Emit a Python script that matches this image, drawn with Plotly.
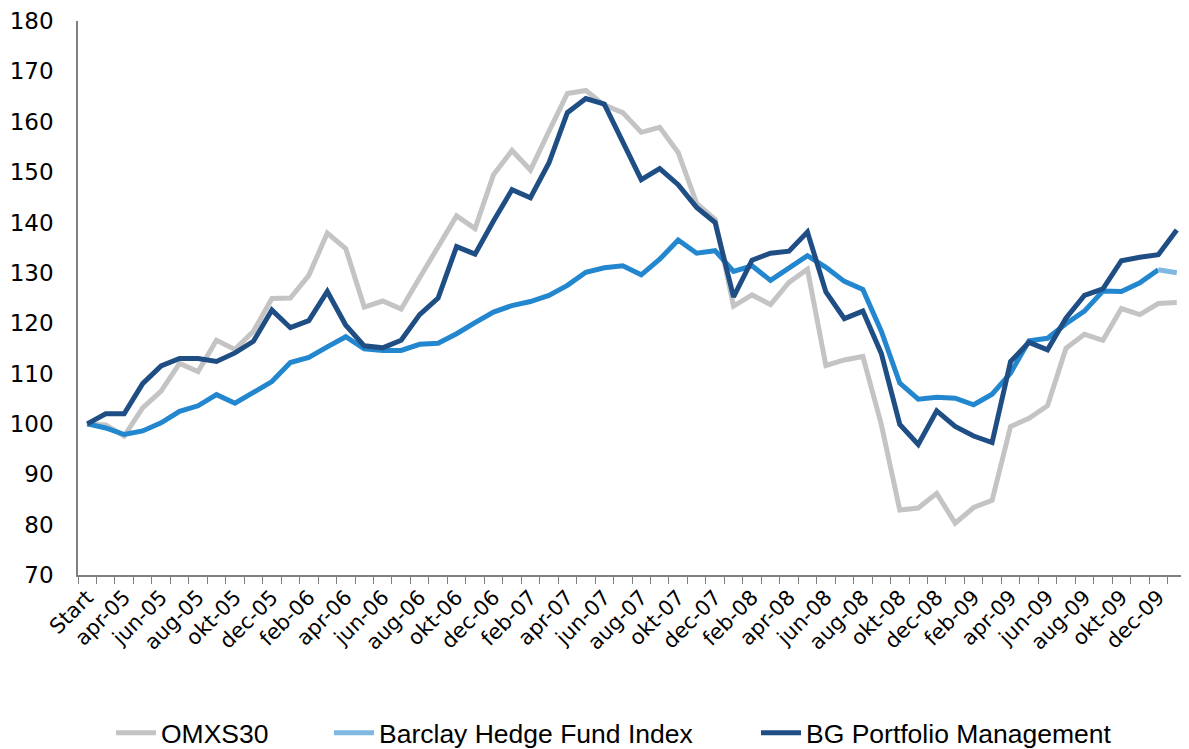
import plotly.graph_objects as go

categories = ["Start", "mar-05", "apr-05", "maj-05", "jun-05", "jul-05", "aug-05", "sep-05", "okt-05", "nov-05", "dec-05",
              "jan-06", "feb-06", "mar-06", "apr-06", "maj-06", "jun-06", "jul-06", "aug-06", "sep-06", "okt-06", "nov-06", "dec-06",
              "jan-07", "feb-07", "mar-07", "apr-07", "maj-07", "jun-07", "jul-07", "aug-07", "sep-07", "okt-07", "nov-07", "dec-07",
              "jan-08", "feb-08", "mar-08", "apr-08", "maj-08", "jun-08", "jul-08", "aug-08", "sep-08", "okt-08", "nov-08", "dec-08",
              "jan-09", "feb-09", "mar-09", "apr-09", "maj-09", "jun-09", "jul-09", "aug-09", "sep-09", "okt-09", "nov-09", "dec-09",
              "jan-10"]

omxs30 = [100.0, 99.8, 97.6, 103.2, 106.5, 112.0, 110.4, 116.6, 114.8, 118.4, 124.9,
          125.0, 129.5, 137.9, 134.8, 123.2, 124.4, 122.8, 129.0, 135.1, 141.3, 138.8, 149.5,
          154.3, 150.4, 158.1, 165.6, 166.2, 163.3, 161.8, 157.9, 158.9, 153.9, 143.8, 140.6,
          123.4, 125.6, 123.7, 128.1, 130.7, 111.6, 112.7, 113.4, 99.9, 82.9, 83.3, 86.2,
          80.3, 83.4, 84.8, 99.5, 101.1, 103.6, 115.0, 117.8, 116.6, 122.9, 121.7, 123.9,
          124.1]

barclay = [100.0, 99.2, 97.9, 98.6, 100.2, 102.5, 103.6, 105.8, 104.1, 106.3, 108.4,
           112.2, 113.2, 115.3, 117.3, 114.9, 114.6, 114.6, 115.8, 116.0, 117.9, 120.1, 122.2,
           123.5, 124.3, 125.5, 127.5, 130.1, 131.0, 131.4, 129.6, 132.7, 136.5, 133.9, 134.4,
           130.3, 131.4, 128.5, 130.9, 133.4, 131.1, 128.3, 126.7, 118.4, 108.1, 104.9, 105.3,
           105.1, 103.8, 105.9, 110.1, 116.5, 117.0, 119.9, 122.4, 126.4, 126.3, 128.0, 130.6,
           130.0]

bg_portfolio = [100.0, 102.0, 102.0, 108.0, 111.5, 113.0, 113.0, 112.4, 114.1, 116.4, 122.6,
                119.1, 120.5, 126.3, 119.6, 115.5, 115.1, 116.6, 121.7, 125.0, 135.2, 133.7, 140.3,
                146.5, 144.9, 151.8, 161.8, 164.6, 163.5, 156.1, 148.5, 150.7, 147.5, 143.0, 140.0,
                125.2, 132.5, 133.9, 134.3, 138.1, 126.2, 120.9, 122.4, 114.0, 99.9, 95.9, 102.6,
                99.5, 97.6, 96.3, 112.4, 116.2, 114.7, 121.0, 125.5, 126.8, 132.4, 133.1, 133.6,
                138.5]

series_names = ["OMXS30", "Barclay Hedge Fund Index", "BG Portfolio Management"]
y_ticks = [70, 80, 90, 100, 110, 120, 130, 140, 150, 160, 170, 180]

x_idx = list(range(len(categories)))
label_idx = x_idx[::2]
label_text = categories[::2]

LW = 5
fig = go.Figure()
fig.add_trace(go.Scatter(x=x_idx, y=omxs30, mode="lines", name=series_names[0], legend="legend",
                         line=dict(color="#c4c4c4", width=LW)))
fig.add_trace(go.Scatter(x=x_idx[:-1], y=barclay[:-1], mode="lines", name=series_names[1],
                         showlegend=False, line=dict(color="#2387cf", width=LW)))
fig.add_trace(go.Scatter(x=x_idx[-2:], y=barclay[-2:], mode="lines", name=series_names[1], legend="legend2",
                         line=dict(color="#80b8e2", width=LW)))
fig.add_trace(go.Scatter(x=x_idx, y=bg_portfolio, mode="lines", name=series_names[2], legend="legend3",
                         line=dict(color="#1f4e85", width=LW)))

W, H = 1189, 749
OFF = 8  # page body margin
leg_font = dict(family="Liberation Sans, Arial", size=26.5, color="#000")
leg_y = (H - (733 - OFF)) / H

def leg(xpx):
    return dict(x=xpx / W, xref="container", xanchor="left", y=leg_y, yref="container", yanchor="middle",
                font=leg_font, bgcolor="rgba(0,0,0,0)", borderwidth=0, orientation="h", itemwidth=40)

fig.update_layout(
    width=W, height=H,
    margin=dict(l=78 - OFF, r=11, t=13, b=H - (575 - OFF), autoexpand=False),
    paper_bgcolor="white", plot_bgcolor="white",
    showlegend=True,
    legend=leg(103), legend2=leg(321), legend3=leg(748),
    font=dict(family="DejaVu Sans, Verdana", color="#000"),
)
fig.update_xaxes(
    range=[-0.5, len(categories) - 0.5],
    tickmode="array", tickvals=label_idx, ticktext=label_text,
    tickangle=-45, ticks="", tickfont=dict(size=21, family="DejaVu Sans, Verdana", color="#000"),
    showline=True, linecolor="#808080", linewidth=1.5,
    showgrid=False, zeroline=False, automargin=False, ticklabeloverflow="allow",
    minor=dict(ticks="outside", tick0=-0.5, dtick=1, ticklen=7, tickcolor="#808080", tickwidth=1.3, showgrid=False),
)
fig.update_yaxes(
    range=[70, 180], tickmode="array", tickvals=y_ticks,
    ticks="", tickfont=dict(size=23, family="DejaVu Sans, Verdana", color="#000"),
    showline=True, linecolor="#808080", linewidth=1.5,
    showgrid=False, zeroline=False, ticklabelstandoff=18, automargin=False, ticklabeloverflow="allow",
)

fig.write_html("out.html")
